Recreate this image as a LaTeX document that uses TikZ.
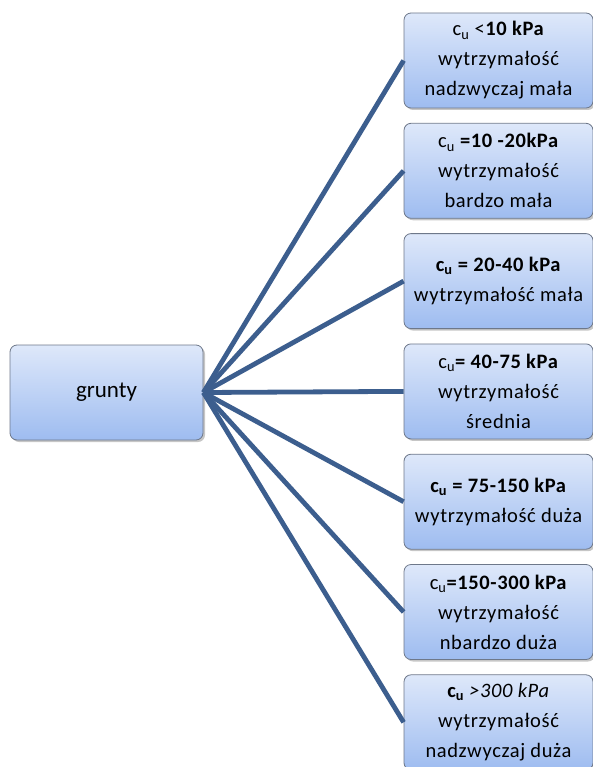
\documentclass[tikz,border=0pt]{standalone}
\usepackage{fontspec}
\setmainfont{Carlito}
\usepackage{tikz}
\usetikzlibrary{shadows}

\definecolor{boxtop}{RGB}{222,232,250}
\definecolor{boxbottom}{RGB}{158,188,240}
\definecolor{boxline}{RGB}{110,120,138}
\definecolor{linkblue}{RGB}{60,94,142}

\begin{document}
\begin{tikzpicture}[x=1pt,y=-1pt,line width=4.8pt,draw=linkblue]
    \tikzstyle{box}=[rectangle,rounded corners=7pt,draw=boxline,line width=0.8pt,
        top color=boxtop,bottom color=boxbottom,
        drop shadow={shadow xshift=2pt,shadow yshift=-2pt,opacity=0.45},
        minimum height=95pt,inner sep=1pt,align=center,
        font=\fontsize{20.5}{30}\selectfont\addfontfeatures{LetterSpace=3}]
    \tikzstyle{root box}=[box,minimum width=193pt,font=\fontsize{23}{28}\selectfont];
    \tikzstyle{class box}=[box,minimum width=189pt];

    \useasboundingbox (0,0) rectangle (593,767);

    % Draw the soil node
    \node[root box] (G) at (106.5,392.5) {grunty};

    % Draw the strength classes
    \foreach \name / \y / \txt in {
        1/60.5/{c\textsubscript{u} <\textbf{10 kPa}\\wytrzymałość\\nadzwyczaj mała},
        2/170.8/{c\textsubscript{u} \textbf{=10 -20kPa}\\wytrzymałość\\bardzo mała},
        3/281.1/{\textbf{c\textsubscript{u} = 20-40 kPa}\\wytrzymałość mała},
        4/391.4/{c\textsubscript{u}\textbf{= 40-75 kPa}\\wytrzymałość\\średnia},
        5/501.7/{\textbf{c\textsubscript{u} = 75-150 kPa}\\wytrzymałość duża},
        6/612/{c\textsubscript{u}\textbf{=150-300 kPa}\\wytrzymałość\\nbardzo duża},
        7/722.3/{\textbf{c\textsubscript{u}} \textit{>300 kPa}\\wytrzymałość\\nadzwyczaj duża}}
        \node[class box] (R-\name) at (498.5,\y) {\txt};

    % Connect the soil node with every class
    \foreach \dest in {1,...,7}
        \draw (G.east) -- (R-\dest.west);
\end{tikzpicture}
\end{document}
